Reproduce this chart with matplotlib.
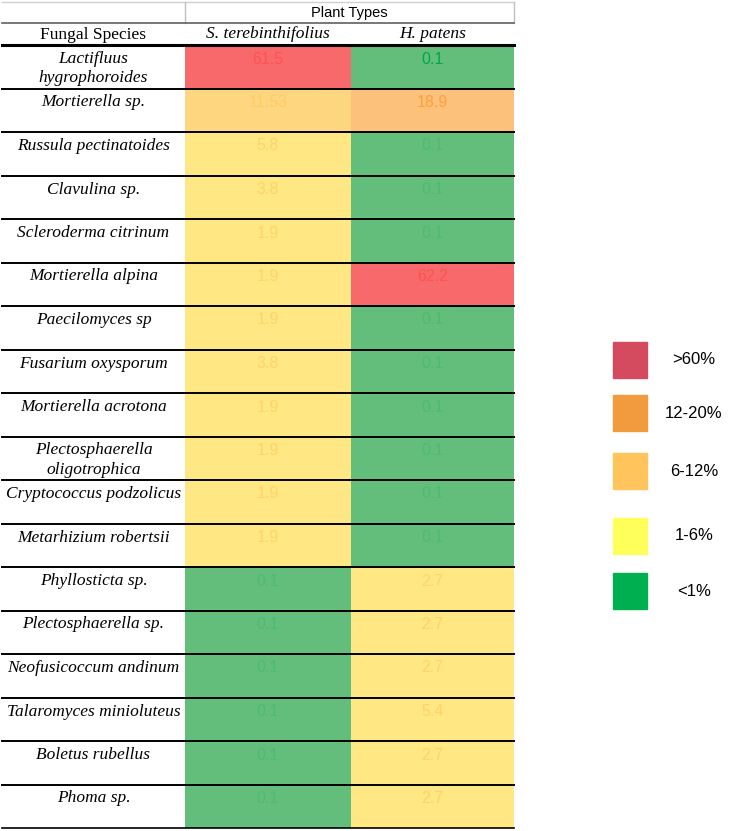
import matplotlib
matplotlib.use("Agg")
import matplotlib.pyplot as plt
from matplotlib.patches import Rectangle

# data ---
species = ["Lactifluus\nhygrophoroides", "Mortierella sp.", "Russula pectinatoides",
           "Clavulina sp.", "Scleroderma citrinum", "Mortierella alpina",
           "Paecilomyces sp", "Fusarium oxysporum", "Mortierella acrotona",
           "Plectosphaerella\noligotrophica", "Cryptococcus podzolicus",
           "Metarhizium robertsii", "Phyllosticta sp.", "Plectosphaerella sp.",
           "Neofusicoccum andinum", "Talaromyces minioluteus", "Boletus rubellus",
           "Phoma sp."]
s_tere = [61.5, 11.53, 5.8, 3.8, 1.9, 1.9, 1.9, 3.8, 1.9, 1.9, 1.9, 1.9,
          0.1, 0.1, 0.1, 0.1, 0.1, 0.1]
h_patens = [0.1, 18.9, 0.1, 0.1, 0.1, 62.2, 0.1, 0.1, 0.1, 0.1, 0.1, 0.1,
            2.7, 2.7, 2.7, 5.4, 2.7, 2.7]
plants = ["S. terebinthifolius", "H. patens"]
legend_labels = [">60%", "12-20%", "6-12%", "1-6%", "<1%"]
legend_colors = ["#D44B60", "#F19A3E", "#FFC55C", "#FFFF5C", "#00B050"]


def cell_color(v):  # fill colour, text colour
    if v > 60:
        return "#F8696B", "#FF5252"
    if v > 12:
        return "#FCC27C", "#FF9F3C"
    if v > 6:
        return "#FFD680", "#FFCB62"
    if v >= 1:
        return "#FFE883", "#FFD26A"
    return "#63BE7B", "#4DBB70"


fig = plt.figure(figsize=(7.37, 8.31), dpi=100)
ax = fig.add_axes([0, 0, 1, 1])
ax.set_xlim(0, 737)
ax.set_ylim(831, 0)
ax.axis("off")

# table layout (pixels)
x0, x1, x2, x3 = 2, 185, 351, 514
top, sub, head = 2, 23, 45
rh = 43.5

serif = "Liberation Serif"
sans = "Liberation Sans"

# header
ax.plot([x0, x3], [top, top], color="#d0d0d0", lw=1)
ax.plot([x1, x1], [top, sub], color="#c0c0c0", lw=1)
ax.plot([x3, x3], [top, sub], color="#c0c0c0", lw=1)
ax.plot([x0, x3], [sub, sub], color="#606060", lw=1.2)
ax.text((x1 + x3) / 2, 13, "Plant Types", ha="center", va="center",
        fontsize=10.5, family=sans)
ax.text((x0 + x1) / 2, 35, "Fungal Species", ha="center", va="center",
        fontsize=12.5, family=serif)
for j, p in enumerate(plants):
    cx = [(x1 + x2) / 2, (x2 + x3) / 2][j]
    ax.text(cx, 34, p, ha="center", va="center", fontsize=12.5,
            family=serif, style="italic")

cols = [(x1, x2), (x2, x3)]
for i, name in enumerate(species):
    y = head + i * rh
    for j, vals in enumerate([s_tere, h_patens]):
        v = vals[i]
        fc, tc = cell_color(v)
        if i == 0 and j == 1:
            tc = "#00A844"
        a, b = cols[j]
        ax.add_patch(Rectangle((a, y), b - a, rh, facecolor=fc, edgecolor="none"))
        ax.text((a + b) / 2, y + 14, f"{v:g}", ha="center", va="center",
                fontsize=11.5, family=sans, color=tc)
    ax.text((x0 + x1) / 2, y + 6, name, ha="center", va="top", fontsize=12.5,
            family=serif, style="italic", linespacing=1.25)
    ax.plot([x0, x3], [y, y], color="black", lw=1.4 if i else 2.2)
ax.plot([x0, x3], [head + len(species) * rh] * 2, color="black", lw=1.2)

# legend
ly = [360, 413, 471, 536, 591]
for lab, col, yy in zip(legend_labels, legend_colors, ly):
    ax.add_patch(Rectangle((613, yy - 18), 34, 36, facecolor=col,
                           edgecolor=col, lw=1))
    ax.text(694, yy, lab, ha="center", va="center", fontsize=12, family=sans)

fig.savefig("out.png", dpi=100)
